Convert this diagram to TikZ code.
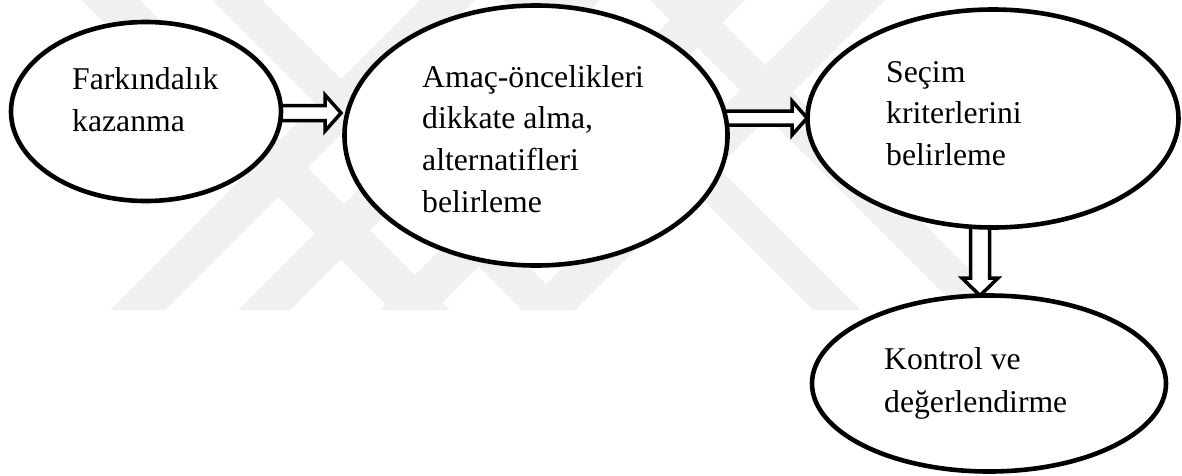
\documentclass[tikz,border=0pt]{standalone}
\usepackage{fontspec}
\setmainfont{Liberation Serif}
\usetikzlibrary{shapes.geometric}
\pgfdeclarelayer{wmark}
\pgfdeclarelayer{conn}
\pgfsetlayers{wmark,conn,main}
\begin{document}
\begin{tikzpicture}[x=1pt,y=-1pt,
  bubble/.style={draw=black, line width=4.6pt, fill=white, ellipse, inner sep=0pt},
  lbl/.style={anchor=base west, inner sep=0pt},
  harrow/.style={draw=black, line width=3.5pt, fill=white, line join=miter},
  wm/.style={fill=black!6, draw=none}]
\useasboundingbox (0,0) rectangle (1182,475);
% watermark
\begin{pgfonlayer}{wmark}
\begin{scope}
\clip (0,0) rectangle (1182,310);
\foreach \a/\b in {82/140,212/262,503/550,650/700}
  \fill[wm] (\a,0) -- (\b,0) -- (\b+310,310) -- (\a+310,310) -- cycle;
\foreach \a/\b in {420/475,548/600,690/745,830/885}
  \fill[wm] (\a,0) -- (\b,0) -- (\b-310,310) -- (\a-310,310) -- cycle;
\end{scope}
\end{pgfonlayer}
% ellipses
\node[bubble, minimum width=270pt, minimum height=179pt] (e1) at (146,111.5) {};
\node[bubble, minimum width=383pt, minimum height=260pt] (e2) at (536,135.5) {};
\node[bubble, minimum width=371pt, minimum height=218pt] (e3) at (993,118.5) {};
\node[bubble, minimum width=354pt, minimum height=176pt] (e4) at (989,383.5) {};
% texts
\node[lbl, font=\fontsize{31.7}{42}\selectfont] (t1) at (72,89)
  {\begin{tabular}[t]{@{}l@{}}Farkındalık\\kazanma\end{tabular}};
\node[lbl, font=\fontsize{31.7}{41.7}\selectfont] (t2) at (422,87)
  {\begin{tabular}[t]{@{}l@{}}Amaç-öncelikleri\\dikkate alma,\\alternatifleri\\belirleme\end{tabular}};
\node[lbl, font=\fontsize{31.7}{41.5}\selectfont] (t3) at (886,82)
  {\begin{tabular}[t]{@{}l@{}}Seçim\\kriterlerini\\belirleme\end{tabular}};
\node[lbl, font=\fontsize{31.7}{43}\selectfont] (t4) at (884,369)
  {\begin{tabular}[t]{@{}l@{}}Kontrol ve\\değerlendirme\end{tabular}};
% connectors (hollow double arrows)
\begin{pgfonlayer}{conn}
\draw[harrow] (e1.east) ++(-12,-6) -- ++(53.75,0) -- ++(0,-10.5) -- ++(16,18)
  -- ++(-16,18) -- ++(0,-10.5) -- ++(-53.75,0) -- cycle;
\draw[harrow] (e2.east) ++(-12,-24.5) -- ++(74.25,0) -- ++(0,-10) -- ++(15,17)
  -- ++(-15,17) -- ++(0,-10) -- ++(-74.25,0) -- cycle;
\draw[harrow] (e3.south) ++(-22.5,-12) -- ++(0,60.25) -- ++(-8.5,0) -- ++(18,17.5)
  -- ++(18,-17.5) -- ++(-8.5,0) -- ++(0,-60.25) -- cycle;
\end{pgfonlayer}
\end{tikzpicture}
\end{document}
